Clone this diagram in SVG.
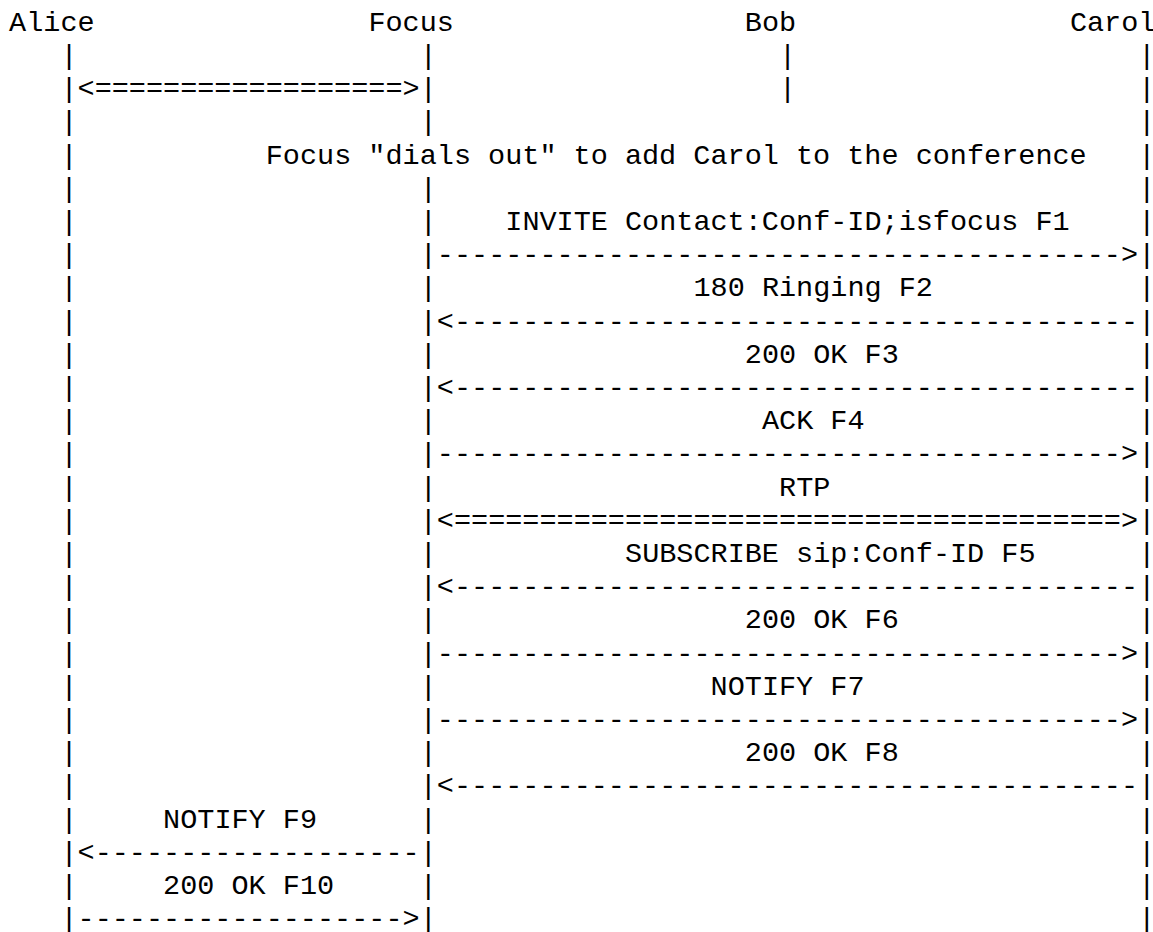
<svg xmlns="http://www.w3.org/2000/svg" width="1153" height="932" viewBox="0 0 1153 932">
<style>
.t{font-family:"Liberation Mono","Courier New",monospace;font-size:28.5px;fill:#000}
</style>
<rect width="1153" height="932" fill="#fff"/>
<g id="alice">
<text class="t" x="9.1" y="30.8">Alice</text>
<text class="t"><tspan x="60.43" y="64">|</tspan><tspan x="60.43" y="97.2">|</tspan><tspan x="60.43" y="130.4">|</tspan><tspan x="60.43" y="163.6">|</tspan><tspan x="60.43" y="196.8">|</tspan><tspan x="60.43" y="230">|</tspan><tspan x="60.43" y="263.2">|</tspan><tspan x="60.43" y="296.4">|</tspan><tspan x="60.43" y="329.6">|</tspan><tspan x="60.43" y="362.8">|</tspan><tspan x="60.43" y="396">|</tspan><tspan x="60.43" y="429.2">|</tspan><tspan x="60.43" y="462.4">|</tspan><tspan x="60.43" y="495.6">|</tspan><tspan x="60.43" y="528.8">|</tspan><tspan x="60.43" y="562">|</tspan><tspan x="60.43" y="595.2">|</tspan><tspan x="60.43" y="628.4">|</tspan><tspan x="60.43" y="661.6">|</tspan><tspan x="60.43" y="694.8">|</tspan><tspan x="60.43" y="728">|</tspan><tspan x="60.43" y="761.2">|</tspan><tspan x="60.43" y="794.4">|</tspan><tspan x="60.43" y="827.6">|</tspan><tspan x="60.43" y="860.8">|</tspan><tspan x="60.43" y="894">|</tspan><tspan x="60.43" y="927.2">|</tspan></text>
</g>
<g id="focus">
<text class="t" x="368.41" y="30.8">Focus</text>
<text class="t"><tspan x="419.74" y="64">|</tspan><tspan x="419.74" y="97.2">|</tspan><tspan x="419.74" y="130.4">|</tspan><tspan x="419.74" y="196.8">|</tspan><tspan x="419.74" y="230">|</tspan><tspan x="419.74" y="263.2">|</tspan><tspan x="419.74" y="296.4">|</tspan><tspan x="419.74" y="329.6">|</tspan><tspan x="419.74" y="362.8">|</tspan><tspan x="419.74" y="396">|</tspan><tspan x="419.74" y="429.2">|</tspan><tspan x="419.74" y="462.4">|</tspan><tspan x="419.74" y="495.6">|</tspan><tspan x="419.74" y="528.8">|</tspan><tspan x="419.74" y="562">|</tspan><tspan x="419.74" y="595.2">|</tspan><tspan x="419.74" y="628.4">|</tspan><tspan x="419.74" y="661.6">|</tspan><tspan x="419.74" y="694.8">|</tspan><tspan x="419.74" y="728">|</tspan><tspan x="419.74" y="761.2">|</tspan><tspan x="419.74" y="794.4">|</tspan><tspan x="419.74" y="827.6">|</tspan><tspan x="419.74" y="860.8">|</tspan><tspan x="419.74" y="894">|</tspan><tspan x="419.74" y="927.2">|</tspan></text>
</g>
<g id="bob">
<text class="t" x="744.83" y="30.8">Bob</text>
<text class="t"><tspan x="779.05" y="64">|</tspan><tspan x="779.05" y="97.2">|</tspan></text>
</g>
<g id="carol">
<text class="t" x="1069.92" y="30.8">Carol</text>
<text class="t"><tspan x="1138.36" y="64">|</tspan><tspan x="1138.36" y="97.2">|</tspan><tspan x="1138.36" y="130.4">|</tspan><tspan x="1138.36" y="163.6">|</tspan><tspan x="1138.36" y="196.8">|</tspan><tspan x="1138.36" y="230">|</tspan><tspan x="1138.36" y="263.2">|</tspan><tspan x="1138.36" y="296.4">|</tspan><tspan x="1138.36" y="329.6">|</tspan><tspan x="1138.36" y="362.8">|</tspan><tspan x="1138.36" y="396">|</tspan><tspan x="1138.36" y="429.2">|</tspan><tspan x="1138.36" y="462.4">|</tspan><tspan x="1138.36" y="495.6">|</tspan><tspan x="1138.36" y="528.8">|</tspan><tspan x="1138.36" y="562">|</tspan><tspan x="1138.36" y="595.2">|</tspan><tspan x="1138.36" y="628.4">|</tspan><tspan x="1138.36" y="661.6">|</tspan><tspan x="1138.36" y="694.8">|</tspan><tspan x="1138.36" y="728">|</tspan><tspan x="1138.36" y="761.2">|</tspan><tspan x="1138.36" y="794.4">|</tspan><tspan x="1138.36" y="827.6">|</tspan><tspan x="1138.36" y="860.8">|</tspan><tspan x="1138.36" y="894">|</tspan><tspan x="1138.36" y="927.2">|</tspan></text>
</g>
<g id="note">
<text class="t" x="265.75" y="163.6">Focus "dials out" to add Carol to the conference</text>
</g>
<g id="connectors">
<text class="t" x="77.54" y="97.2">&lt;==================&gt;</text>
<text class="t" x="505.29" y="230">INVITE Contact:Conf-ID;isfocus F1</text>
<text class="t" x="436.85" y="263.2">----------------------------------------&gt;</text>
<text class="t" x="693.5" y="296.4">180 Ringing F2</text>
<text class="t" x="436.85" y="329.6">&lt;----------------------------------------</text>
<text class="t" x="744.83" y="362.8">200 OK F3</text>
<text class="t" x="436.85" y="396">&lt;----------------------------------------</text>
<text class="t" x="761.94" y="429.2">ACK F4</text>
<text class="t" x="436.85" y="462.4">----------------------------------------&gt;</text>
<text class="t" x="779.05" y="495.6">RTP</text>
<text class="t" x="436.85" y="528.8">&lt;=======================================&gt;</text>
<text class="t" x="625.06" y="562">SUBSCRIBE sip:Conf-ID F5</text>
<text class="t" x="436.85" y="595.2">&lt;----------------------------------------</text>
<text class="t" x="744.83" y="628.4">200 OK F6</text>
<text class="t" x="436.85" y="661.6">----------------------------------------&gt;</text>
<text class="t" x="710.61" y="694.8">NOTIFY F7</text>
<text class="t" x="436.85" y="728">----------------------------------------&gt;</text>
<text class="t" x="744.83" y="761.2">200 OK F8</text>
<text class="t" x="436.85" y="794.4">&lt;----------------------------------------</text>
<text class="t" x="163.09" y="827.6">NOTIFY F9</text>
<text class="t" x="77.54" y="860.8">&lt;-------------------</text>
<text class="t" x="163.09" y="894">200 OK F10</text>
<text class="t" x="77.54" y="927.2">-------------------&gt;</text>
</g>
</svg>
